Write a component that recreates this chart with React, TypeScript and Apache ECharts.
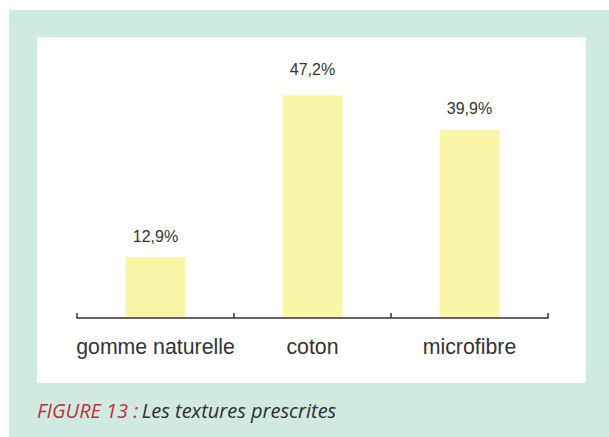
import React, { useEffect, useRef } from "react";
import * as echarts from "echarts";

const categories = ["gomme naturelle", "coton", "microfibre"];
const values = [12.9, 47.2, 39.9];
const captionRed = "FIGURE 13 :";
const captionText = "Les textures prescrites";

export default function App() {
  const ref = useRef<HTMLDivElement>(null);
  useEffect(() => {
    const chart = echarts.init(ref.current!, null, { renderer: "svg" });
    chart.setOption({
      animation: false,
      backgroundColor: "#ffffff",
      graphic: [
        { type: "rect", z: -10, shape: { x: 9, y: 10, width: 600, height: 427 }, style: { fill: "#d0eae2" } },
        { type: "rect", z: -9, shape: { x: 37, y: 37, width: 549, height: 346 }, style: { fill: "#ffffff" } },
        {
          type: "text",
          left: 37,
          top: 400,
          style: {
            rich: {
              r: { fill: "#c0303a", fontSize: 20, fontStyle: "italic", fontFamily: "Open Sans" },
              d: { fill: "#2e2e2e", fontSize: 20, fontStyle: "italic", fontFamily: "Open Sans" },
            },
            text: `{r|${captionRed}} {d|${captionText}}`,
          },
        },
      ],
      grid: { left: 77, right: 61, top: 82, bottom: 119 },
      xAxis: {
        type: "category",
        data: categories,
        boundaryGap: true,
        axisLine: { show: true, lineStyle: { color: "#333333", width: 1.5 } },
        axisTick: { show: true, interval: 0, inside: true, length: 5, lineStyle: { color: "#333333", width: 1.5 } },
        axisLabel: { interval: 0, color: "#333333", fontSize: 21.3, fontFamily: "Liberation Sans, Arial, sans-serif", margin: 18 },
        z: 5,
      },
      yAxis: { type: "value", min: 0, max: 50, show: false },
      series: [
        {
          type: "bar",
          data: values.map((v, i) => (i === 1 ? { value: v, label: { distance: 18 } } : v)),
          barWidth: 60,
          itemStyle: { color: "#fbf5a8" },
          label: {
            show: true,
            position: "top",
            distance: 13,
            color: "#333333",
            fontSize: 16,
            fontFamily: "Liberation Sans, Arial, sans-serif",
            formatter: (p: any) => String(p.value).replace(".", ",") + "%",
          },
        },
      ],
    });
    return () => chart.dispose();
  }, []);
  return <div ref={ref} style={{ position: "fixed", left: 0, top: 0, width: 609, height: 437 }} />;
}
